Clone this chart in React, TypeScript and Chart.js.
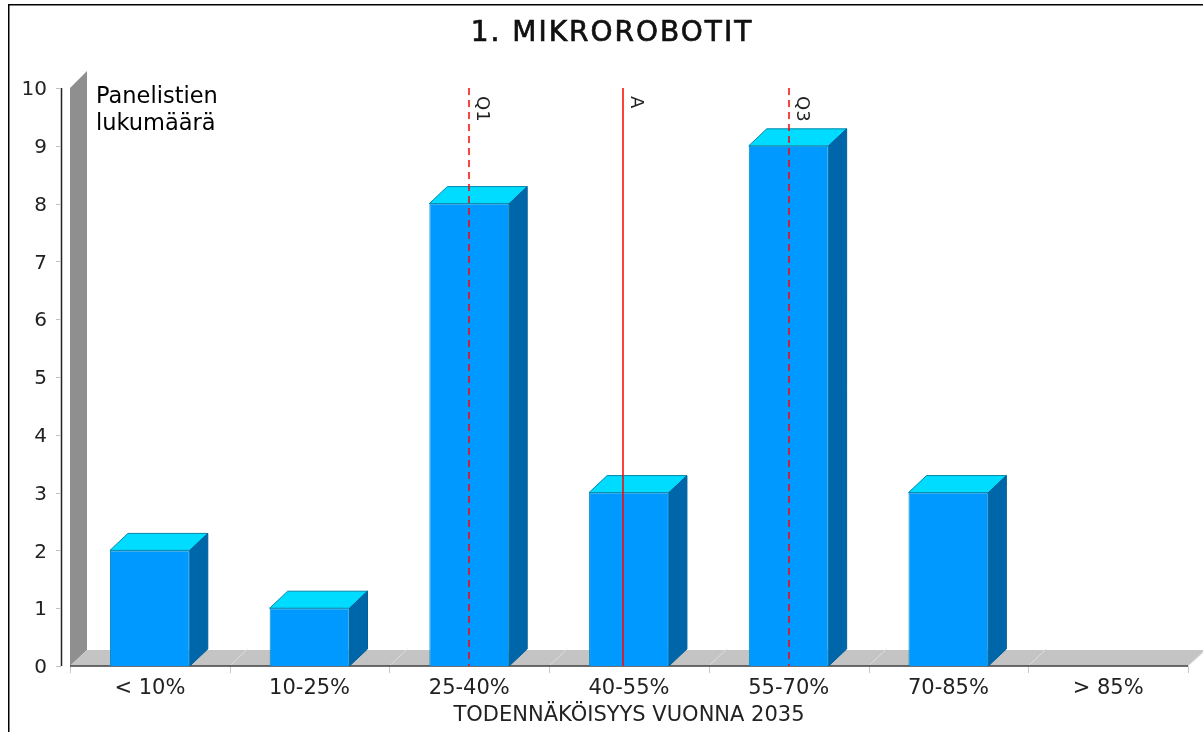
import React, { useEffect, useRef } from "react";
import { Chart, registerables } from "chart.js";

Chart.register(...registerables);

const categories = ["< 10%", "10-25%", "25-40%", "40-55%", "55-70%", "70-85%", "> 85%"];
const panelists = [2, 1, 8, 3, 9, 3, 0];
const yTicks = [0, 1, 2, 3, 4, 5, 6, 7, 8, 9, 10];
const chartTitle = "1. MIKROROBOTIT";
const xTitle = "TODENNÄKÖISYYS VUONNA 2035";
const yNote = ["Panelistien", "lukumäärä"];
const markerNames = ["Q1", "A", "Q3"];
const markerPositions = [2.0, 2.965, 4.0];
const markerDashed = [true, false, true];

const FONT = '"DejaVu Sans"';
const DX = 18;
const DY = 17;

const threeD = {
  id: "threeD",
  beforeDatasetsDraw(chart: any) {
    const { ctx, chartArea: a, scales } = chart;
    const y0 = a.bottom;
    ctx.save();
    // wall
    ctx.fillStyle = "#8f8f8f";
    ctx.beginPath();
    ctx.moveTo(a.left, a.top);
    ctx.lineTo(a.left + DX - 1, a.top - DY);
    ctx.lineTo(a.left + DX - 1, y0 - 16);
    ctx.lineTo(a.left, y0);
    ctx.closePath();
    ctx.fill();
    // floor
    ctx.fillStyle = "#c4c4c4";
    ctx.beginPath();
    ctx.moveTo(a.left, y0);
    ctx.lineTo(a.left + DX - 1, y0 - 16);
    ctx.lineTo(a.right + DX, y0 - 16);
    ctx.lineTo(a.right, y0);
    ctx.closePath();
    ctx.fill();
    // floor separators and x ticks
    const step = (a.right - a.left) / categories.length;
    categories.forEach((_, i) => {
      const x = scales.x.getPixelForValue(i) + step / 2;
      ctx.strokeStyle = "#dedede";
      ctx.lineWidth = 1;
      ctx.beginPath();
      ctx.moveTo(x, y0);
      ctx.lineTo(x + DX, y0 - DY);
      ctx.stroke();
    });
    for (let i = 0; i <= categories.length; i++) {
      const x = Math.round(a.left + step * i) + 0.5;
      ctx.strokeStyle = "#c8c8c8";
      ctx.beginPath();
      ctx.moveTo(x, y0);
      ctx.lineTo(x, y0 + 7);
      ctx.stroke();
    }
    // baseline
    ctx.strokeStyle = "#404040";
    ctx.lineWidth = 1.5;
    ctx.beginPath();
    ctx.moveTo(a.left, y0);
    ctx.lineTo(a.right, y0);
    ctx.stroke();
    // y axis line and ticks
    ctx.strokeStyle = "#222222";
    ctx.lineWidth = 1.5;
    ctx.beginPath();
    ctx.moveTo(a.left - 8.5, a.top);
    ctx.lineTo(a.left - 8.5, y0);
    ctx.stroke();
    ctx.strokeStyle = "#c0c0c0";
    ctx.lineWidth = 1;
    yTicks.forEach((t) => {
      const y = Math.round(scales.y.getPixelForValue(t)) + 0.5;
      ctx.beginPath();
      ctx.moveTo(a.left - 14, y);
      ctx.lineTo(a.left - 9, y);
      ctx.stroke();
    });
    // bar depth faces
    const meta = chart.getDatasetMeta(0);
    meta.data.forEach((bar: any, i: number) => {
      if (!panelists[i]) return;
      const l = bar.x - bar.width / 2;
      const r = bar.x + bar.width / 2;
      const t = bar.y;
      const b = bar.base;
      ctx.lineWidth = 1;
      ctx.strokeStyle = "#0088aa";
      ctx.fillStyle = "#00dcff";
      ctx.beginPath();
      ctx.moveTo(l, t);
      ctx.lineTo(l + DX, t - DY);
      ctx.lineTo(r + DX, t - DY);
      ctx.lineTo(r, t);
      ctx.closePath();
      ctx.fill();
      ctx.stroke();
      ctx.strokeStyle = "#005f99";
      ctx.fillStyle = "#0066aa";
      ctx.beginPath();
      ctx.moveTo(r, t);
      ctx.lineTo(r + DX, t - DY);
      ctx.lineTo(r + DX, b - DY);
      ctx.lineTo(r, b);
      ctx.closePath();
      ctx.fill();
      ctx.stroke();
    });
    ctx.restore();
  },
  afterDatasetsDraw(chart: any) {
    const { ctx, chartArea: a, scales } = chart;
    ctx.save();
    // markers
    markerNames.forEach((name, i) => {
      const x = Math.round(scales.x.getPixelForValue(markerPositions[i]));
      ctx.strokeStyle = "rgba(255,0,0,0.75)";
      ctx.lineWidth = 2;
      ctx.setLineDash(markerDashed[i] ? [7, 5] : []);
      ctx.beginPath();
      ctx.moveTo(x, a.top);
      ctx.lineTo(x, a.bottom);
      ctx.stroke();
      ctx.setLineDash([]);
      ctx.save();
      ctx.translate(x + 4, a.top + 8);
      ctx.rotate(Math.PI / 2);
      ctx.fillStyle = "#222222";
      ctx.font = `18px ${FONT}`;
      ctx.textAlign = "left";
      ctx.textBaseline = "bottom";
      ctx.fillText(name, 0, 0);
      ctx.restore();
    });
    // note
    ctx.fillStyle = "#000000";
    ctx.font = `22.5px ${FONT}`;
    ctx.textAlign = "left";
    ctx.textBaseline = "alphabetic";
    yNote.forEach((line, i) => ctx.fillText(line, a.left + 26, a.top + 15 + i * 27));
    // title
    ctx.save();
    ctx.fillStyle = "#111111";
    ctx.strokeStyle = "#111111";
    ctx.lineWidth = 0.7;
    ctx.font = `28px ${FONT}`;
    (ctx as any).letterSpacing = "2px";
    ctx.textAlign = "center";
    ctx.fillText(chartTitle, a.left + 542, 41);
    ctx.strokeText(chartTitle, a.left + 542, 41);
    ctx.restore();
    // frame
    ctx.strokeStyle = "#000000";
    ctx.lineWidth = 1.5;
    ctx.beginPath();
    ctx.moveTo(8.75, 732);
    ctx.lineTo(8.75, 4.75);
    ctx.lineTo(1203, 4.75);
    ctx.stroke();
    ctx.restore();
  },
};

export default function App() {
  const ref = useRef<HTMLCanvasElement>(null);
  useEffect(() => {
    const chart = new Chart(ref.current!, {
      type: "bar",
      data: {
        labels: categories,
        datasets: [
          {
            data: panelists,
            backgroundColor: "#0099ff",
            borderColor: "#0088bb",
            borderWidth: 1,
            barPercentage: 0.5,
            categoryPercentage: 1,
          },
        ],
      },
      options: {
        responsive: false,
        animation: false,
        layout: { padding: { left: 0, right: 15, top: 88, bottom: 0 } },
        plugins: {
          legend: { display: false },
          tooltip: { enabled: false },
          title: { display: false },
        },
        scales: {
          x: {
            grid: { display: false },
            border: { display: false },
            ticks: { color: "#222222", font: { family: FONT, size: 21 }, padding: 2, maxRotation: 0 },
            title: {
              display: true,
              text: xTitle,
              color: "#222222",
              font: { family: FONT, size: 21 },
              padding: { top: 0, bottom: 4 },
            },
            afterFit(s: any) {
              s.height = 66;
            },
          },
          y: {
            min: 0,
            max: 10,
            grid: { display: false },
            border: { display: false },
            afterBuildTicks(s: any) {
              s.ticks = yTicks.map((value) => ({ value }));
            },
            ticks: { color: "#222222", font: { family: FONT, size: 20 }, padding: 15, labelOffset: 2 },
            afterFit(s: any) {
              s.width = 70;
            },
          },
        },
      },
      plugins: [threeD],
    } as any);
    return () => chart.destroy();
  }, []);
  return (
    <div style={{ position: "absolute", left: 0, top: 0, width: 1203, height: 732, background: "#ffffff" }}>
      <canvas ref={ref} width={1203} height={732} style={{ display: "block" }} />
    </div>
  );
}
